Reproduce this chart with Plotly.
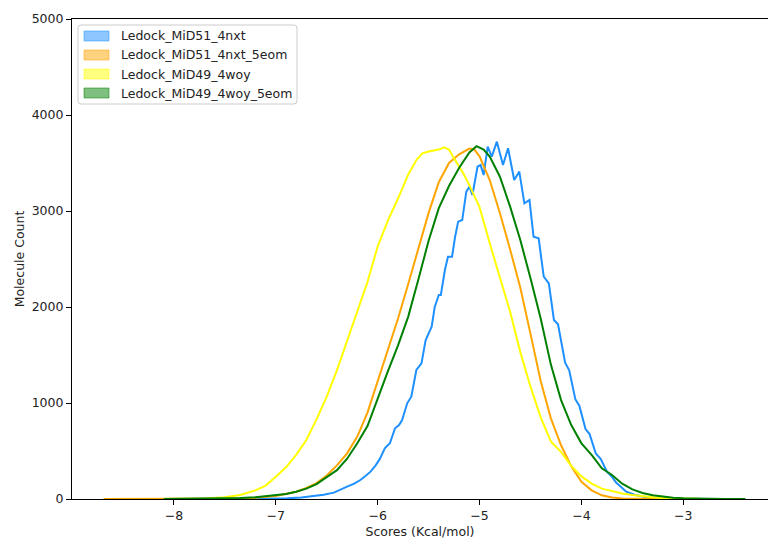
import plotly.graph_objects as go

# ---------------- data ----------------
series_names = ["Ledock_MiD51_4nxt", "Ledock_MiD51_4nxt_5eom",
                "Ledock_MiD49_4woy", "Ledock_MiD49_4woy_5eom"]

blu_x = [-8.10,-7.50,-7.20,-7.00,-6.89,-6.75,-6.63,-6.53,-6.43,-6.36,-6.30,-6.23,-6.17,-6.12,-6.07,-6.02,
         -5.98,-5.93,-5.88,-5.83,-5.79,-5.76,-5.71,-5.67,-5.62,-5.57,-5.53,-5.50,-5.47,-5.44,-5.42,-5.40,
         -5.38,-5.34,-5.31,-5.27,-5.24,-5.21,-5.17,-5.13,-5.10,-5.07,-5.02,-4.99,-4.96,-4.92,-4.88,-4.83,
         -4.77,-4.72,-4.66,-4.61,-4.56,-4.51,-4.47,-4.42,-4.37,-4.32,-4.27,-4.23,-4.16,-4.12,-4.06,-4.02,
         -3.96,-3.92,-3.86,-3.81,-3.75,-3.70,-3.66,-3.60,-3.56,-3.48,-3.40,-3.30,-3.15,-3.00,-2.80,-2.60]
blu_y = [0,0,2,4,7,15,31,45,66,95,128,160,198,240,285,350,
         415,528,580,736,770,823,997,1066,1344,1413,1650,1726,1795,2000,2073,2125,
         2125,2385,2524,2524,2732,2889,2906,3201,3253,3167,3461,3479,3375,3670,3566,3722,
         3479,3653,3323,3410,3080,3115,2732,2716,2316,2247,1865,1820,1420,1340,1040,970,
         728,676,476,415,285,230,172,110,76,45,27,14,6,3,1,0]

org_x = [-8.69,-8.10,-7.60,-7.30,-7.00,-6.90,-6.80,-6.70,-6.60,-6.50,-6.40,-6.30,-6.20,-6.10,-6.00,
         -5.90,-5.80,-5.70,-5.60,-5.50,-5.40,-5.30,-5.20,-5.10,-5.05,-5.00,-4.90,-4.80,-4.70,-4.60,
         -4.50,-4.40,-4.30,-4.20,-4.10,-4.00,-3.90,-3.80,-3.70,-3.60,-3.40,-3.20,-2.95]
org_y = [0,0,1,4,32,50,75,115,165,245,350,476,650,900,1220,
         1540,1880,2240,2620,2980,3300,3500,3590,3650,3640,3570,3323,2976,2600,2200,
         1720,1230,840,560,340,180,90,38,16,6,2,0,0]

yel_x = [-8.10,-7.90,-7.70,-7.50,-7.35,-7.20,-7.10,-7.00,-6.90,-6.80,-6.70,-6.60,-6.50,-6.40,-6.30,
         -6.20,-6.10,-6.00,-5.90,-5.80,-5.70,-5.62,-5.56,-5.50,-5.45,-5.40,-5.35,-5.30,-5.26,-5.20,
         -5.16,-5.10,-5.06,-5.00,-4.90,-4.80,-4.70,-4.60,-4.50,-4.40,-4.30,-4.20,-4.10,-4.00,-3.90,
         -3.80,-3.70,-3.60,-3.50,-3.40,-3.30,-3.20,-3.00,-2.80,-2.60]
yel_y = [0,2,6,18,42,90,140,232,330,460,615,830,1066,1340,1640,
         1950,2260,2630,2900,3130,3380,3530,3600,3620,3628,3640,3662,3640,3566,3460,
         3393,3270,3184,3040,2663,2316,1950,1530,1170,850,600,490,345,235,160,
         108,80,58,42,28,18,10,4,1,0]

grn_x = [-8.10,-7.80,-7.50,-7.35,-7.20,-7.06,-6.90,-6.80,-6.70,-6.60,-6.50,-6.40,-6.30,-6.20,-6.10,
         -6.00,-5.90,-5.80,-5.70,-5.60,-5.50,-5.40,-5.30,-5.20,-5.10,-5.03,-4.96,-4.90,-4.80,-4.70,
         -4.60,-4.50,-4.40,-4.30,-4.20,-4.10,-4.00,-3.90,-3.80,-3.70,-3.60,-3.50,-3.40,-3.30,-3.20,
         -3.10,-3.00,-2.80,-2.60,-2.39]
grn_y = [0,2,5,10,18,31,52,75,108,155,225,300,420,580,760,
         1050,1330,1600,1900,2290,2690,3030,3260,3450,3610,3675,3640,3566,3357,3045,
         2698,2300,1880,1400,1030,770,580,460,320,250,160,100,62,38,24,
         14,9,3,1,0]

x_ticks = [-8, -7, -6, -5, -4, -3]
y_ticks = [0, 1000, 2000, 3000, 4000, 5000]
x_title = "Scores (Kcal/mol)"
y_title = "Molecule Count"

line_colors = ["#1E90FF", "#FFA500", "#FFFF00", "#008000"]
patch_fill = ["rgba(30,144,255,0.5)", "rgba(255,165,0,0.5)",
              "rgba(255,255,0,0.5)", "rgba(0,128,0,0.5)"]

# ---------------- figure ----------------
W, H = 768, 539
ML, MR, MT, MB = 72, 0, 19, 40
PW, PH = W - ML - MR, H - MT - MB
FONT = "DejaVu Sans"
FS = 12.5
TXT = "#222222"

fig = go.Figure()
data = {0: (blu_x, blu_y), 1: (org_x, org_y), 2: (yel_x, yel_y), 3: (grn_x, grn_y)}
for i in [0, 1, 2, 3]:
    xs, ys = data[i]
    fig.add_trace(go.Scatter(x=xs, y=ys, mode="lines", name=series_names[i],
                             line=dict(color=line_colors[i], width=2),
                             showlegend=False, hoverinfo="skip"))

def pp(x, y):
    return (x - ML) / PW, (H - MB - y) / PH

# manual matplotlib-style legend
shapes = []
bx0, by0, bx1, by1 = 78, 25, 297, 104
r = 3
X0, Y0 = pp(bx0, by0); X1, Y1 = pp(bx1, by1)
rx, ry = r / PW, r / PH
path = (f"M {X0+rx},{Y0} L {X1-rx},{Y0} Q {X1},{Y0} {X1},{Y0-ry} "
        f"L {X1},{Y1+ry} Q {X1},{Y1} {X1-rx},{Y1} L {X0+rx},{Y1} "
        f"Q {X0},{Y1} {X0},{Y1+ry} L {X0},{Y0-ry} Q {X0},{Y0} {X0+rx},{Y0} Z")
shapes.append(dict(type="path", xref="paper", yref="paper", path=path,
                   fillcolor="rgba(255,255,255,0.85)", line=dict(color="#cccccc", width=1),
                   layer="above"))
annotations = []
row_y = [36, 55, 74, 93]
for i, name in enumerate(series_names):
    ax0, ay0 = pp(84, row_y[i] - 5)
    ax1, ay1 = pp(109, row_y[i] + 5)
    shapes.append(dict(type="rect", xref="paper", yref="paper", x0=ax0, x1=ax1, y0=ay1, y1=ay0,
                       fillcolor=patch_fill[i], line=dict(color=patch_fill[i], width=1),
                       layer="above"))
    tx, ty = pp(119, row_y[i])
    annotations.append(dict(xref="paper", yref="paper", x=tx, y=ty, text=name,
                            showarrow=False, xanchor="left", yanchor="middle",
                            font=dict(family=FONT, size=FS, color=TXT)))

fig.update_layout(
    width=W, height=H,
    margin=dict(l=ML, r=MR, t=MT, b=MB, pad=0),
    paper_bgcolor="white", plot_bgcolor="white",
    showlegend=False,
    shapes=shapes, annotations=annotations,
    font=dict(family=FONT, size=FS, color=TXT),
)
fig.update_xaxes(range=[-9.0, -2.169], tickvals=x_ticks, ticks="outside", ticklen=5,
                 tickwidth=1, tickcolor="black", showgrid=False, zeroline=False,
                 showline=True, linecolor="black", linewidth=1.1, mirror=True,
                 title=dict(text=x_title, font=dict(family=FONT, size=FS, color=TXT), standoff=5),
                 tickfont=dict(family=FONT, size=FS, color=TXT))
fig.update_yaxes(range=[0, 5000], tickvals=y_ticks, ticks="outside", ticklen=5,
                 tickwidth=1, tickcolor="black", showgrid=False, zeroline=False,
                 showline=True, linecolor="black", linewidth=1.1, mirror=False,
                 title=dict(text=y_title, font=dict(family=FONT, size=FS, color=TXT), standoff=4),
                 tickfont=dict(family=FONT, size=FS, color=TXT))

fig.write_html("out.html")
